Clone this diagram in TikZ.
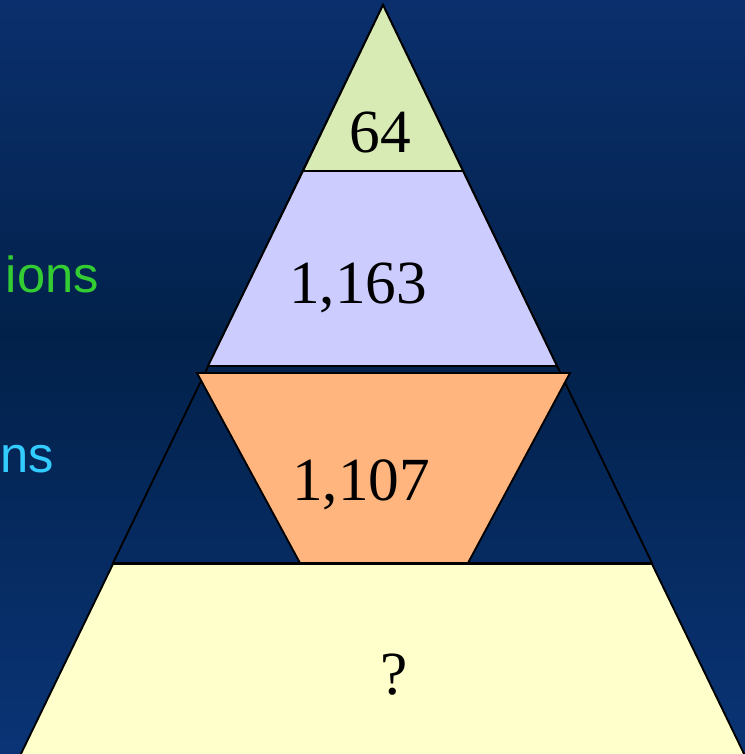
\documentclass[tikz,border=0pt]{standalone}
\usepackage{fontspec}
\setmainfont{Liberation Serif}
\setsansfont{Liberation Sans}
\definecolor{bgtop}{HTML}{0A2F6C}
\definecolor{bgmid}{HTML}{02214A}
\definecolor{bgbot}{HTML}{0A3476}
\definecolor{tipfill}{HTML}{D8EBB4}
\definecolor{lavfill}{HTML}{CCCCFF}
\definecolor{orafill}{HTML}{FFB57D}
\definecolor{yelfill}{HTML}{FFFFCC}
\definecolor{lblgreen}{HTML}{33CC33}
\definecolor{lblcyan}{HTML}{33CCFF}
\begin{document}
\begin{tikzpicture}[x=0.75pt,y=-0.75pt,
  layer/.style={draw=black,line width=1.4pt,line join=miter},
  numtxt/.style={inner sep=0pt,anchor=base,font=\fontsize{46}{50}\selectfont},
  sidetxt/.style={inner sep=0pt,anchor=base east,font=\sffamily\fontsize{38}{42}\selectfont}]
\useasboundingbox (0,0) rectangle (745,754);
\clip (0,0) rectangle (745,754);
% background gradient in strips
\foreach \i in {0,...,32} {
  \pgfmathtruncatemacro\p{100*\i/33}
  \colorlet{stripcol}{bgmid!\p!bgtop}
  \fill[stripcol] (0,{\i*10}) rectangle (745,{\i*10+11});
}
\foreach \i in {0,...,42} {
  \pgfmathtruncatemacro\p{100*\i/42}
  \colorlet{stripcol}{bgbot!\p!bgmid}
  \fill[stripcol] (0,{330+\i*10}) rectangle (745,{330+\i*10+11});
}
% outer triangle outline
\draw[layer] (383,5) -- (113,563) -- (652,563) -- cycle;
% layers
\filldraw[layer,fill=tipfill] (383,5) -- (463,171) -- (303,171) -- cycle;
\filldraw[layer,fill=lavfill] (303,171) -- (463,171) -- (557,366) -- (208,366) -- cycle;
\filldraw[layer,fill=orafill] (197,373) -- (570,373) -- (468,563) -- (300,563) -- cycle;
\filldraw[layer,fill=yelfill] (113,564) -- (652,564) -- (748,762) -- (17,762) -- cycle;
% numbers
\node[numtxt] (n64) at (380,152) {64};
\node[numtxt] (n1163) at (358,303) {1,163};
\node[numtxt] (n1107) at (361,500) {1,107};
\node[numtxt] (nq) at (394,694) {?};
% side labels
\node[sidetxt,text=lblgreen] (lions) at (99,292) {ions};
\node[sidetxt,text=lblcyan] (lns) at (54,472) {ns};
\end{tikzpicture}
\end{document}
